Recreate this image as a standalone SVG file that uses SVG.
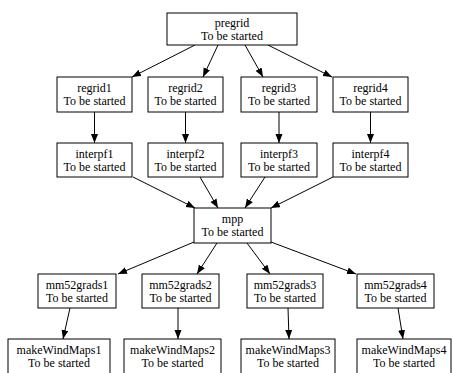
<svg xmlns="http://www.w3.org/2000/svg" width="453" height="373" viewBox="0 0 453 373">
<style>
.n rect{fill:#fff;stroke:#000;stroke-width:1}
.n text{font-family:'Liberation Serif','Times New Roman',Times,serif;font-size:12px;text-anchor:middle;fill:#000}
.e path{fill:none;stroke:#000;stroke-width:1;marker-end:url(#ah)}
</style>
<defs>
<marker id="ah" markerUnits="userSpaceOnUse" markerWidth="10" markerHeight="8" refX="9" refY="3.5" orient="auto">
<path d="M0,0 L9,3.5 L0,7 z" fill="#000"/>
</marker>
</defs>
<rect width="453" height="373" fill="#fff"/>
<g id="edges" class="e">
<path d="M195,45 L132,77"/>
<path d="M218,45 L203,77"/>
<path d="M245,45 L263,77"/>
<path d="M268,45 L332,77"/>
<path d="M94.5,112 L94.5,143"/>
<path d="M185.5,112 L185.5,143"/>
<path d="M279,112 L279,143"/>
<path d="M370.5,112 L370.5,143"/>
<path d="M133,177 L195,208"/>
<path d="M200,177 L218,208"/>
<path d="M265,177 L245,208"/>
<path d="M333,177 L271,208"/>
<path d="M194,242 L118,274"/>
<path d="M217,243 L197,274"/>
<path d="M247,243 L270,274"/>
<path d="M271,242 L356,274"/>
<path d="M70,308 L63,339"/>
<path d="M178,308 L178,339"/>
<path d="M288,308 L289,339"/>
<path d="M398,308 L403,339"/>
</g>
<g font-family="Liberation Serif, Times New Roman, serif">
<g id="pregrid" class="n"><rect x="167" y="13" width="130" height="32"/><text x="232" y="27">pregrid</text><text x="232" y="40">To be started</text></g>
<g id="regrid1" class="n"><rect x="57" y="77" width="75" height="35"/><text x="94.5" y="92">regrid1</text><text x="94.5" y="105">To be started</text></g>
<g id="regrid2" class="n"><rect x="148" y="77" width="75" height="35"/><text x="185.5" y="92">regrid2</text><text x="185.5" y="105">To be started</text></g>
<g id="regrid3" class="n"><rect x="241" y="77" width="76" height="35"/><text x="279" y="92">regrid3</text><text x="279" y="105">To be started</text></g>
<g id="regrid4" class="n"><rect x="333" y="77" width="75" height="35"/><text x="370.5" y="92">regrid4</text><text x="370.5" y="105">To be started</text></g>
<g id="interpf1" class="n"><rect x="57" y="143" width="75" height="34"/><text x="94.5" y="158">interpf1</text><text x="94.5" y="171">To be started</text></g>
<g id="interpf2" class="n"><rect x="148" y="143" width="75" height="34"/><text x="185.5" y="158">interpf2</text><text x="185.5" y="171">To be started</text></g>
<g id="interpf3" class="n"><rect x="241" y="143" width="76" height="34"/><text x="279" y="158">interpf3</text><text x="279" y="171">To be started</text></g>
<g id="interpf4" class="n"><rect x="333" y="143" width="75" height="34"/><text x="370.5" y="158">interpf4</text><text x="370.5" y="171">To be started</text></g>
<g id="mpp" class="n"><rect x="194" y="208" width="77" height="35"/><text x="232.5" y="223">mpp</text><text x="232.5" y="236">To be started</text></g>
<g id="mm52grads1" class="n"><rect x="38" y="274" width="78" height="34"/><text x="77" y="289">mm52grads1</text><text x="77" y="302">To be started</text></g>
<g id="mm52grads2" class="n"><rect x="142" y="274" width="77" height="34"/><text x="180.5" y="289">mm52grads2</text><text x="180.5" y="302">To be started</text></g>
<g id="mm52grads3" class="n"><rect x="247" y="274" width="76" height="34"/><text x="285" y="289">mm52grads3</text><text x="285" y="302">To be started</text></g>
<g id="mm52grads4" class="n"><rect x="357" y="274" width="77" height="34"/><text x="395.5" y="289">mm52grads4</text><text x="395.5" y="302">To be started</text></g>
<g id="makeWindMaps1" class="n"><rect x="8" y="339" width="102" height="40"/><text x="59" y="354">makeWindMaps1</text><text x="59" y="367">To be started</text></g>
<g id="makeWindMaps2" class="n"><rect x="124" y="339" width="97" height="40"/><text x="172.5" y="354">makeWindMaps2</text><text x="172.5" y="367">To be started</text></g>
<g id="makeWindMaps3" class="n"><rect x="241" y="339" width="94" height="40"/><text x="288" y="354">makeWindMaps3</text><text x="288" y="367">To be started</text></g>
<g id="makeWindMaps4" class="n"><rect x="357" y="339" width="94" height="40"/><text x="404" y="354">makeWindMaps4</text><text x="404" y="367">To be started</text></g>
</g>
</svg>
